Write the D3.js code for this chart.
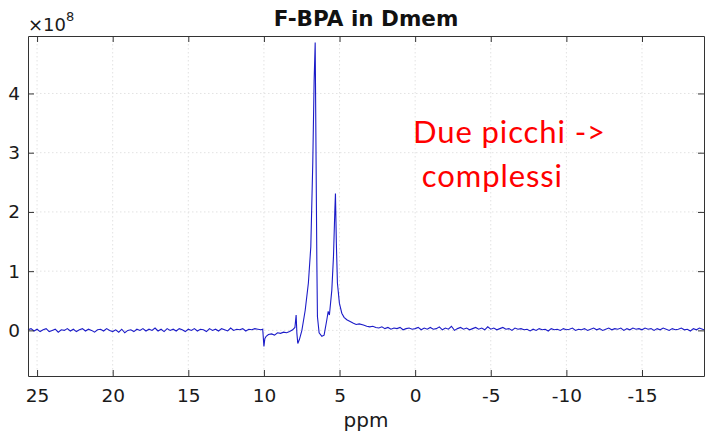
<!DOCTYPE html>
<meta charset="utf-8">
<body style="margin:0;background:#fff">
<script src="https://d3js.org/d3.v7.min.js"></script>
<script>
  // spectrum, [ppm, intensity in units of 1e8]
  var leftBaseline = [
    [25.6,0.01],[25.4,0.03],[25.2,-0.01],[25.0,0.02],[24.8,-0.02],[24.6,0.01],[24.4,0.03],[24.2,-0.02],
    [24.0,0.00],[23.8,0.02],[23.6,-0.03],[23.4,0.01],[23.2,0.00],[23.0,0.03],[22.8,-0.01],[22.6,0.02],
    [22.4,-0.02],[22.2,0.01],[22.0,0.03],[21.8,-0.01],[21.6,0.02],[21.4,0.00],[21.2,-0.03],[21.0,0.01],
    [20.8,0.02],[20.6,-0.01],[20.4,0.03],[20.2,0.00],[20.0,-0.02],[19.8,0.01],[19.6,-0.03],[19.4,0.02],
    [19.2,-0.04],[19.0,0.00],[18.8,0.01],[18.6,-0.02],[18.4,0.02],[18.2,0.00],[18.0,0.03],[17.8,-0.01],
    [17.6,0.02],[17.4,0.00],[17.2,0.04],[17.0,-0.01],[16.8,0.02],[16.6,-0.02],[16.4,0.03],[16.2,0.00],
    [16.0,0.02],[15.8,-0.01],[15.6,0.03],[15.4,0.01],[15.2,-0.02],[15.0,0.02],[14.8,0.00],[14.6,0.03],
    [14.4,-0.01],[14.2,0.02],[14.0,0.01],[13.8,-0.02],[13.6,0.03],[13.4,0.00],[13.2,0.02],[13.0,-0.01],
    [12.8,0.03],[12.6,0.01],[12.4,-0.01],[12.2,0.04],[12.0,0.00],[11.8,0.02],[11.6,0.01],[11.4,0.03],
    [11.2,-0.01],[11.0,0.02],[10.8,0.01],[10.6,0.03],[10.4,0.02],[10.2,0.01],[10.08,0.02]
  ];

  var peakRegion = [
    [10.0,-0.27],[9.94,-0.14],[9.85,-0.10],[9.7,-0.07],[9.5,-0.06],[9.3,-0.08],[9.1,-0.04],[8.9,-0.05],
    [8.7,-0.03],[8.5,-0.04],[8.3,-0.02],[8.1,0.01],[7.95,0.05],[7.87,0.26],[7.82,-0.05],[7.76,-0.22],
    [7.65,-0.15],[7.49,0.00],[7.27,0.34],[7.06,0.80],[6.90,1.41],[6.77,2.82],[6.68,4.22],[6.61,4.86],
    [6.55,2.82],[6.50,1.14],[6.46,0.23],[6.35,-0.04],[6.17,-0.10],[6.02,-0.08],[5.84,0.18],[5.75,0.32],
    [5.67,0.26],[5.51,0.68],[5.40,1.25],[5.31,2.03],[5.27,2.31],[5.21,1.47],[5.14,0.80],[5.01,0.46],
    [4.85,0.29],[4.7,0.22],[4.52,0.18],[4.3,0.15],[4.08,0.12],[3.9,0.10],[3.7,0.11],[3.42,0.09],
    [3.2,0.07],[3.0,0.06],[2.8,0.07],[2.6,0.05]
  ];

  var rightBaseline = [
    [2.4,0.04],[2.2,0.06],[2.0,0.03],[1.8,0.05],[1.6,0.02],[1.4,0.04],[1.2,0.03],[1.0,0.05],
    [0.8,0.01],[0.6,0.03],[0.4,0.04],[0.2,0.02],[0.0,0.03],[-0.2,0.05],[-0.4,0.01],[-0.6,0.04],
    [-0.8,0.02],[-1.0,0.05],[-1.2,0.02],[-1.4,0.03],[-1.6,0.06],[-1.8,0.01],[-2.0,0.04],[-2.2,0.02],
    [-2.4,0.07],[-2.6,0.00],[-2.8,0.03],[-3.0,0.05],[-3.2,0.02],[-3.4,0.04],[-3.6,0.01],[-3.8,0.03],
    [-4.0,0.05],[-4.2,0.02],[-4.4,0.04],[-4.6,0.01],[-4.8,0.06],[-5.0,0.02],[-5.2,0.04],[-5.4,0.01],
    [-5.6,0.03],[-5.8,0.05],[-6.0,0.02],[-6.2,0.03],[-6.4,0.00],[-6.6,0.04],[-6.8,0.02],[-7.0,0.03],
    [-7.2,0.01],[-7.4,0.02],[-7.6,-0.01],[-7.8,0.02],[-8.0,0.00],[-8.2,0.03],[-8.4,0.01],[-8.6,0.02],
    [-8.8,-0.01],[-9.0,0.03],[-9.2,0.01],[-9.4,0.02],[-9.6,0.00],[-9.8,0.03],[-10.0,0.01],[-10.2,0.02],
    [-10.4,0.04],[-10.6,0.00],[-10.8,0.02],[-11.0,0.01],[-11.2,0.03],[-11.4,0.00],[-11.6,0.02],[-11.8,0.04],
    [-12.0,0.01],[-12.2,0.03],[-12.4,0.00],[-12.6,0.02],[-12.8,0.04],[-13.0,0.01],[-13.2,0.03],[-13.4,0.02],
    [-13.6,0.04],[-13.8,0.00],[-14.0,0.03],[-14.2,0.01],[-14.4,0.04],[-14.6,0.02],[-14.8,0.03],[-15.0,0.01],
    [-15.2,0.04],[-15.4,0.02],[-15.6,0.03],[-15.8,0.00],[-16.0,0.03],[-16.2,0.01],[-16.4,0.04],[-16.6,0.02],
    [-16.8,0.00],[-17.0,0.03],[-17.2,0.01],[-17.4,0.02],[-17.6,0.04],[-17.8,0.01],[-18.0,0.02],[-18.2,-0.01],
    [-18.4,0.03],[-18.6,0.01],[-18.8,0.04],[-19.0,0.02],[-19.1,0.01]
  ];

  var xTicks = [25, 20, 15, 10, 5, 0, -5, -10, -15];
  var yTicks = [0, 1, 2, 3, 4];
  var title = "F-BPA in Dmem";
  var xLabel = "ppm";
  var note = ["Due picchi ->", " complessi"];

  var svg = d3.select("body").append("svg")
          .attr("width", 705)
          .attr("height", 437);

  var margin = {top: 36, right: 1, bottom: 61, left: 28},
          width = +svg.attr("width") - margin.left - margin.right,
          height = +svg.attr("height") - margin.top - margin.bottom,
          g = svg.append("g").attr("transform", "translate(" + margin.left + "," + margin.top + ")");

  var xScale = d3.scaleLinear().domain([25.6, -19.1]).range([0, width]);
  var yScale = d3.scaleLinear().domain([-0.77, 4.97]).range([height, 0]);

  // plain hyphen minus, integers only
  var fmt = function(d) { return String(d); };

  // grid
  g.append("g").selectAll("line").data(xTicks).enter().append("line")
          .attr("x1", d => xScale(d)).attr("x2", d => xScale(d))
          .attr("y1", 0).attr("y2", height)
          .style("stroke", "#e2e2e2").style("stroke-dasharray", "1.5,2.5");
  g.append("g").selectAll("line").data(yTicks).enter().append("line")
          .attr("y1", d => yScale(d)).attr("y2", d => yScale(d))
          .attr("x1", 0).attr("x2", width)
          .style("stroke", "#e2e2e2").style("stroke-dasharray", "1.5,2.5");

  var spectrum = leftBaseline.concat(peakRegion, rightBaseline);

  var line = d3.line()
          .x(function(d) { return xScale(d[0]); })
          .y(function(d) { return yScale(d[1]); });

  g.append("path")
          .datum(spectrum)
          .attr("d", line)
          .style("fill", "none")
          .style("stroke", "#1c1cc8")
          .style("stroke-width", 1.1);

  // axes, ticks pointing inward like matlab
  var font = "'DejaVu Sans', sans-serif";
  g.append("g")
          .attr("transform", "translate(0," + height + ")")
          .call(d3.axisBottom(xScale).tickValues(xTicks).tickFormat(fmt).tickSizeInner(-6).tickSizeOuter(0).tickPadding(13));
  g.append("g")
          .call(d3.axisLeft(yScale).tickValues(yTicks).tickFormat(fmt).tickSizeInner(-6).tickSizeOuter(0).tickPadding(8));
  g.append("g")
          .call(d3.axisTop(xScale).tickValues(xTicks).tickSizeInner(-6).tickSizeOuter(0).tickFormat(""));
  g.append("g")
          .attr("transform", "translate(" + width + ",0)")
          .call(d3.axisRight(yScale).tickValues(yTicks).tickSizeInner(-6).tickSizeOuter(0).tickFormat(""));

  g.selectAll(".domain").style("stroke", "#333");
  g.selectAll(".tick line").style("stroke", "#333");
  g.selectAll(".tick text")
          .style("font-family", font)
          .style("font-size", "18.5px")
          .style("fill", "#1a1a1a");

  // exponent label
  var expo = svg.append("text")
          .attr("x", 28).attr("y", 31)
          .style("font-family", font).style("font-size", "18px").style("fill", "#1a1a1a");
  expo.append("tspan").text("\u00d710");
  expo.append("tspan").attr("dy", -10).style("font-size", "13px").text("8");

  svg.append("text")
          .attr("x", margin.left + width / 2).attr("y", 26)
          .attr("text-anchor", "middle")
          .style("font-family", font).style("font-weight", "bold").style("font-size", "21.5px")
          .style("fill", "#111")
          .text(title);

  svg.append("text")
          .attr("x", margin.left + width / 2).attr("y", 427)
          .attr("text-anchor", "middle")
          .style("font-family", font).style("font-size", "20px").style("fill", "#1a1a1a")
          .text(xLabel);

  svg.selectAll(".note").data(note).enter().append("text")
          .attr("class", "note")
          .attr("x", 413)
          .attr("y", function(d, i) { return 143 + i * 44; })
          .attr("xml:space", "preserve")
          .style("white-space", "pre")
          .style("font-family", "Lato, sans-serif").style("font-size", "31px")
          .style("letter-spacing", "0.9px")
          .style("fill", "#ff0000")
          .text(function(d) { return d; });
</script>
</body>
</html>
